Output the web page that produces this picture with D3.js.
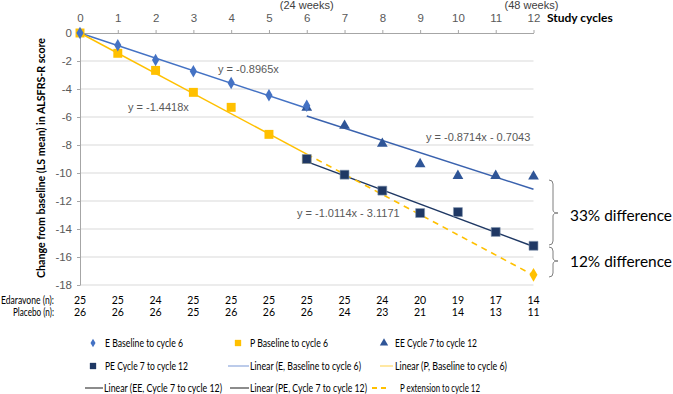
<!DOCTYPE html>
<html>
<head>
<meta charset="utf-8">
<script src="https://cdn.jsdelivr.net/npm/d3@7"></script>
<style>
html,body{margin:0;padding:0;background:#fff;}
svg{display:block;}
</style>
</head>
<body>
<svg id="chart" width="673" height="394"></svg>
<script>
// ---- data ----
const cycles = [0,1,2,3,4,5,6,7,8,9,10,11,12];
const eCycles = [0,1,2,3,4,5,6];
const eBase = [0,-0.88,-1.93,-2.74,-3.57,-4.45,-5.2];
const pBase = [0,-1.45,-2.67,-4.24,-5.31,-7.24,-9.0];
const lateCycles = [6,7,8,9,10,11,12];
const eeVals = [-5.33,-6.62,-7.9,-9.36,-10.2,-10.2,-10.24];
const peVals = [-9.0,-10.12,-11.26,-12.86,-12.79,-14.21,-15.2];
const pExtCycle = [12];
const pExtVal = [-17.27];
const edaravoneN = [25,25,24,25,25,25,25,25,24,20,19,17,14];
const placeboN = [26,26,26,25,26,26,26,24,23,21,14,13,11];
const yTicks = [0,-2,-4,-6,-8,-10,-12,-14,-16,-18];
// trendline coefficients (from the equation labels)
const trendNames = ["E","P","EE","PE","Pext"];
const trendSlope = [-0.8965,-1.4418,-0.8714,-1.0114,-1.4418];
const trendIntercept = [0,0,-0.7043,-3.1171,0];
const trendFrom = [0,0,6,6,6];
const trendTo = [6,6,12,12,12];
const trendLabels = ["y = -0.8965x","y = -1.4418x","y = -0.8714x - 0.7043","y = -1.0114x - 3.1171",null];

// ---- styles ----
const cE = "#4472C4", cP = "#FFC000", cEE = "#2F5597", cPE = "#1F3864";
const trendColor = [cE, cP, "#3A62AE", cPE, cP];
const fTick = "'Liberation Sans', Arial, sans-serif";
const fCal = "Lato, 'Open Sans', sans-serif";

const svg = d3.select("#chart");
const x = d3.scaleLinear().domain([0,12]).range([80,533.5]);
const y = d3.scaleLinear().domain([0,-18]).range([33,285]);

// gridlines
svg.append("g").selectAll("line").data(yTicks.filter(d=>d!==0)).join("line")
  .attr("x1",x(0)).attr("x2",x(12)).attr("y1",d=>y(d)).attr("y2",d=>y(d))
  .attr("stroke","#d9d9d9").attr("stroke-width",1);

// top x axis
const xAxis = svg.append("g").attr("transform",`translate(0,${y(0)})`)
  .call(d3.axisTop(x).tickValues(cycles).tickSize(3).tickSizeOuter(0).tickPadding(8).tickFormat(d3.format("d")));
xAxis.select(".domain").attr("stroke","#a6a6a6");
xAxis.selectAll(".tick line").attr("stroke","#a6a6a6");
xAxis.selectAll("text").attr("fill","#595959").style("font-family",fTick).style("font-size","11.5px");

// left y axis
const yAxis = svg.append("g").attr("transform",`translate(${x(0)},0)`)
  .call(d3.axisLeft(y).tickValues(yTicks).tickSize(3).tickSizeOuter(0).tickPadding(5).tickFormat(d=>d===0?"0":d3.format("d")(d).replace("−","-")));
yAxis.select(".domain").attr("stroke","#a6a6a6");
yAxis.selectAll(".tick line").attr("stroke","#a6a6a6");
yAxis.selectAll("text").attr("fill","#595959").style("font-family",fTick).style("font-size","11.5px");

// top labels
svg.append("text").attr("x",x(6)).attr("y",9).attr("text-anchor","middle")
  .style("font-family",fTick).style("font-size","11px").attr("fill","#404040").text("(24 weeks)");
svg.append("text").attr("x",x(12)-2).attr("y",9).attr("text-anchor","middle")
  .style("font-family",fTick).style("font-size","11px").attr("fill","#404040").text("(48 weeks)");
svg.append("text").attr("x",547).attr("y",22).style("font-family",fCal).style("font-weight","bold")
  .style("font-size","12px").attr("fill","#000").text("Study cycles");

// y title
svg.append("text").attr("transform",`translate(45,${158}) rotate(-90)`).attr("text-anchor","middle")
  .style("font-family",fCal).style("font-weight","bold").style("font-size","11.5px").attr("fill","#000")
  .attr("textLength",240).attr("lengthAdjust","spacingAndGlyphs")
  .text("Change from baseline (LS mean) in ALSFRS-R score");

// trendlines
trendNames.forEach((n,i)=>{
  svg.append("line")
    .attr("x1",x(trendFrom[i])).attr("y1",y(trendSlope[i]*trendFrom[i]+trendIntercept[i]))
    .attr("x2",x(trendTo[i])).attr("y2",y(trendSlope[i]*trendTo[i]+trendIntercept[i]))
    .attr("stroke",trendColor[i]).attr("stroke-width",n==="Pext"?1.6:1.5)
    .attr("stroke-dasharray",n==="Pext"?"6,5":null);
});

// markers
const sq = d3.symbol().type(d3.symbolSquare);
const tri = d3.symbol().type(d3.symbolTriangle);
const dia = d3.symbol().type(d3.symbolDiamond);

svg.append("g").selectAll("path").data(pBase).join("path")
  .attr("d",sq.size(80)()).attr("transform",(d,i)=>`translate(${x(eCycles[i])},${y(d)})`).attr("fill",cP);
svg.append("g").selectAll("path").data(eeVals).join("path")
  .attr("d",tri.size(50)()).attr("transform",(d,i)=>`translate(${x(lateCycles[i])},${y(d)})`).attr("fill",cEE);
svg.append("g").selectAll("path").data(eBase).join("path")
  .attr("d",dia.size(45)()).attr("transform",(d,i)=>`translate(${x(eCycles[i])},${y(d)})`).attr("fill",cE);
svg.append("g").selectAll("path").data(peVals).join("path")
  .attr("d",sq.size(80)()).attr("transform",(d,i)=>`translate(${x(lateCycles[i])},${y(d)})`).attr("fill",cPE)
  .attr("stroke","#8497b0").attr("stroke-width",0.6);
svg.append("g").selectAll("path").data(pExtVal).join("path")
  .attr("d",dia.size(55)()).attr("transform",(d,i)=>`translate(${x(pExtCycle[i])},${y(d)})`).attr("fill",cP);

// equation labels
const eqPos = [[218,73],[128,111],[426,141],[297,217]];
trendLabels.forEach((t,i)=>{
  if(!t) return;
  svg.append("text").attr("x",eqPos[i][0]).attr("y",eqPos[i][1])
    .style("font-family",fTick).style("font-size","11px").attr("fill","#595959").text(t);
});

// braces
function brace(y0,y1,ym){
  const xl=549, xv=553, xt=558;
  return `M${xl},${y0} Q${xv},${y0} ${xv},${y0+4} L${xv},${ym-3} Q${xv},${ym} ${xt},${ym} Q${xv},${ym} ${xv},${ym+3} L${xv},${y1-4} Q${xv},${y1} ${xl},${y1}`;
}
svg.append("path").attr("d",brace(180,245,213)).attr("fill","none").attr("stroke","#7f7f7f").attr("stroke-width",1);
svg.append("path").attr("d",brace(247,277,261)).attr("fill","none").attr("stroke","#7f7f7f").attr("stroke-width",1);
svg.append("text").attr("x",570).attr("y",221).style("font-family",fCal).style("font-size","15.5px").attr("fill","#000")
  .attr("textLength",102).attr("lengthAdjust","spacingAndGlyphs").text("33% difference");
svg.append("text").attr("x",570).attr("y",267).style("font-family",fCal).style("font-size","15.5px").attr("fill","#000")
  .attr("textLength",102).attr("lengthAdjust","spacingAndGlyphs").text("12% difference");

// n table
const tbl = svg.append("g").style("font-family",fCal).style("font-size","10.5px").attr("fill","#000");
tbl.append("text").attr("x",1).attr("y",304).attr("textLength",53).attr("lengthAdjust","spacingAndGlyphs").text("Edaravone (n):");
tbl.append("text").attr("x",13).attr("y",316).attr("textLength",41).attr("lengthAdjust","spacingAndGlyphs").text("Placebo (n):");
tbl.selectAll(".en").data(edaravoneN).join("text").attr("class","en")
  .attr("x",(d,i)=>x(cycles[i])).attr("y",304).attr("text-anchor","middle").text(d=>d);
tbl.selectAll(".pn").data(placeboN).join("text").attr("class","pn")
  .attr("x",(d,i)=>x(cycles[i])).attr("y",316).attr("text-anchor","middle").text(d=>d);

// legend
const leg = svg.append("g").style("font-family",fCal).style("font-size","10.5px").attr("fill","#000");
function legText(xp,yp,t,w){ leg.append("text").attr("x",xp).attr("y",yp+3.7).attr("textLength",w).attr("lengthAdjust","spacingAndGlyphs").text(t); }
function legSym(sym,size,col,xp,yp){ leg.append("path").attr("d",sym.size(size)()).attr("transform",`translate(${xp},${yp})`).attr("fill",col); }
function legLine(x1,x2,yp,col,dash){ leg.append("line").attr("x1",x1).attr("x2",x2).attr("y1",yp).attr("y2",yp).attr("stroke",col).attr("stroke-width",dash?1.8:1.2).attr("stroke-dasharray",dash?"5,4":null); }
const r1=343, r2=366, r3=388;
legSym(dia,22,cE,93,r1); legText(105,r1,"E Baseline to cycle 6",78);
legSym(sq,40,cP,238,r1); legText(250,r1,"P Baseline to cycle 6",78);
legSym(tri,30,cEE,384,r1); legText(395,r1,"EE Cycle 7 to cycle 12",82);
legSym(sq,40,cPE,93,r2); legText(105,r2,"PE Cycle 7 to cycle 12",83);
legLine(228,249,r2,"#8fa9dc"); legText(250,r2,"Linear (E, Baseline to cycle 6)",111);
legLine(380,393,r2,"#ffd966"); legText(395,r2,"Linear (P, Baseline to cycle 6)",112);
legLine(85,103,r3,"#404040"); legText(104,r3,"Linear (EE, Cycle 7 to cycle 12)",118);
legLine(230,249,r3,"#404040"); legText(250,r3,"Linear (PE, Cycle 7 to cycle 12)",117);
legLine(372,390,r3,cP,true); legText(400,r3,"P extension to cycle 12",80);
</script>
</body>
</html>
